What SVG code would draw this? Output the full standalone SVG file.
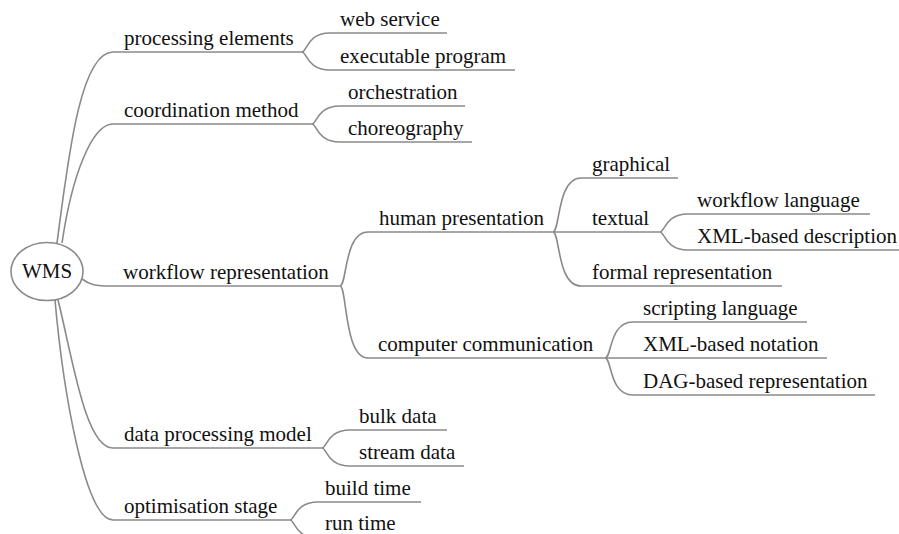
<svg xmlns="http://www.w3.org/2000/svg" width="899" height="534" viewBox="0 0 899 534" font-family="Liberation Serif, Times New Roman, serif">
<style>
.t{font-size:21px;fill:#111}
.u{stroke:#8a8a8a;stroke-width:1.6;fill:none}
.c path{stroke:#8a8a8a;stroke-width:1.6;fill:none}
</style>
<rect width="899" height="534" fill="#fff"/>
<g class="c" id="connectors">
<path d="M57 243 C68 160 80 52 113 52"/>
<path d="M62 243 C72 175 92 124 113 124"/>
<path d="M82 279 C90 285 95 286 112 286"/>
<path d="M58 300 C72 355 85 448 113 448"/>
<path d="M55 300 C63 390 85 520 113 520"/>
<path d="M302 52 C307 52 307 33 330 33"/>
<path d="M302 52 C307 52 307 70 330 70"/>
<path d="M312 124 C317 124 317 106 340 106"/>
<path d="M312 124 C317 124 317 142 340 142"/>
<path d="M340 286 C347 286 344 232 368 232"/>
<path d="M340 286 C347 286 344 358 368 358"/>
<path d="M553 232 C560 232 557 178 581 178"/>
<path d="M553 232 C560 232 557 286 581 286"/>
<path d="M660 232 C665 232 665 214 688 214"/>
<path d="M660 232 C665 232 665 250 688 250"/>
<path d="M605 358 C612 358 609 322 633 322"/>
<path d="M605 358 C612 358 609 395 633 395"/>
<path d="M322 448 C327 448 327 430 350 430"/>
<path d="M322 448 C327 448 327 466 350 466"/>
<path d="M290 520 C295 520 295 502 318 502"/>
<path d="M290 520 C295 520 295 538 318 538"/>
</g>
<g id="wms"><ellipse cx="47" cy="271.5" rx="36" ry="29" fill="#fff" stroke="#8a8a8a" stroke-width="1.6"/><text class="t" x="47" y="278" text-anchor="middle">WMS</text></g>
<g id="processing-elements"><line class="u" x1="113" y1="52" x2="302" y2="52"/><text class="t" x="124" y="45">processing elements</text></g>
<g id="web-service"><line class="u" x1="330" y1="33" x2="447" y2="33"/><text class="t" x="340" y="26">web service</text></g>
<g id="executable-program"><line class="u" x1="330" y1="70" x2="515" y2="70"/><text class="t" x="340" y="63">executable program</text></g>
<g id="coordination-method"><line class="u" x1="113" y1="124" x2="312" y2="124"/><text class="t" x="124" y="117">coordination method</text></g>
<g id="orchestration"><line class="u" x1="340" y1="106" x2="465" y2="106"/><text class="t" x="348" y="99">orchestration</text></g>
<g id="choreography"><line class="u" x1="340" y1="142" x2="472" y2="142"/><text class="t" x="348" y="135">choreography</text></g>
<g id="workflow-representation"><line class="u" x1="112" y1="286" x2="340" y2="286"/><text class="t" x="123" y="279">workflow representation</text></g>
<g id="human-presentation"><line class="u" x1="368" y1="232" x2="553" y2="232"/><text class="t" x="379" y="225">human presentation</text></g>
<g id="graphical"><line class="u" x1="581" y1="178" x2="678" y2="178"/><text class="t" x="592" y="171">graphical</text></g>
<g id="textual"><line class="u" x1="553" y1="232" x2="660" y2="232"/><text class="t" x="592" y="225">textual</text></g>
<g id="workflow-language"><line class="u" x1="688" y1="214" x2="870" y2="214"/><text class="t" x="697" y="207">workflow language</text></g>
<g id="xml-based-description"><line class="u" x1="688" y1="250" x2="899" y2="250"/><text class="t" x="697" y="243">XML-based description</text></g>
<g id="formal-representation"><line class="u" x1="581" y1="286" x2="782" y2="286"/><text class="t" x="592" y="279">formal representation</text></g>
<g id="computer-communication"><line class="u" x1="368" y1="358" x2="605" y2="358"/><text class="t" x="378" y="351">computer communication</text></g>
<g id="scripting-language"><line class="u" x1="633" y1="322" x2="807" y2="322"/><text class="t" x="643" y="315">scripting language</text></g>
<g id="xml-based-notation"><line class="u" x1="605" y1="358" x2="827" y2="358"/><text class="t" x="643" y="351">XML-based notation</text></g>
<g id="dag-based-representation"><line class="u" x1="633" y1="395" x2="875" y2="395"/><text class="t" x="643" y="388">DAG-based representation</text></g>
<g id="data-processing-model"><line class="u" x1="113" y1="448" x2="322" y2="448"/><text class="t" x="124" y="441">data processing model</text></g>
<g id="bulk-data"><line class="u" x1="350" y1="430" x2="447" y2="430"/><text class="t" x="359" y="423">bulk data</text></g>
<g id="stream-data"><line class="u" x1="350" y1="466" x2="464" y2="466"/><text class="t" x="359" y="459">stream data</text></g>
<g id="optimisation-stage"><line class="u" x1="113" y1="520" x2="290" y2="520"/><text class="t" x="124" y="513">optimisation stage</text></g>
<g id="build-time"><line class="u" x1="318" y1="502" x2="421" y2="502"/><text class="t" x="325" y="495">build time</text></g>
<g id="run-time"><line class="u" x1="318" y1="538" x2="405" y2="538"/><text class="t" x="325" y="530">run time</text></g>
</svg>
